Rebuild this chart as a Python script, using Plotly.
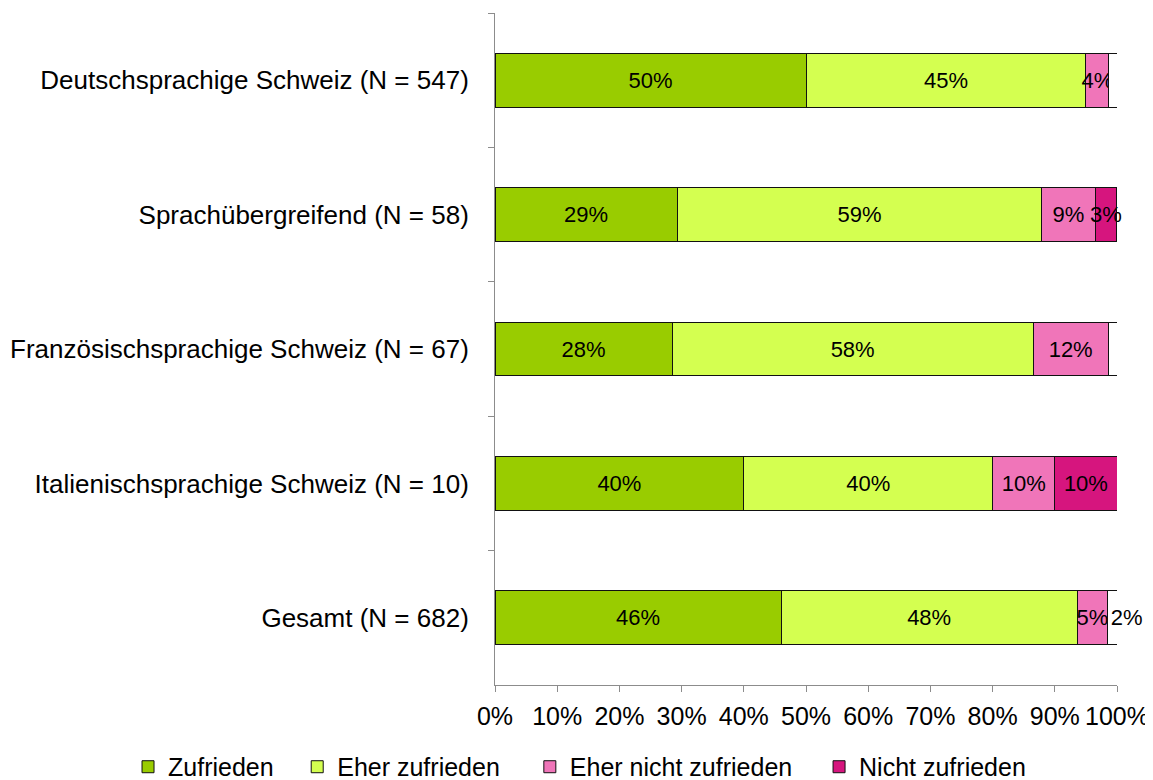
import plotly.graph_objects as go

# Regions, top to bottom as in the chart
categories = [
    "Deutschsprachige Schweiz (N = 547)",
    "Sprachübergreifend (N = 58)",
    "Französischsprachige Schweiz (N = 67)",
    "Italienischsprachige Schweiz (N = 10)",
    "Gesamt (N = 682)",
]

# Shares in percent
zufrieden = [50.0, 29.3, 28.5, 40.0, 46.0]
eher_zufrieden = [45.0, 58.6, 58.0, 40.0, 47.6]
eher_nicht_zufrieden = [3.7, 8.6, 12.1, 10.0, 4.9]
nicht_zufrieden = [0.0, 3.4, 0.0, 10.0, 0.0]
keine_angabe = [1.3, 0.0, 1.4, 0.0, 1.5]
keine_angabe_label = [False, False, False, False, True]

x_ticks = [0, 10, 20, 30, 40, 50, 60, 70, 80, 90, 100]

# name, values, colour, legend id (None = not in legend)
series = [
    ("Zufrieden", zufrieden, "#99CC00", "legend"),
    ("Eher zufrieden", eher_zufrieden, "#D4FF50", "legend2"),
    ("Eher nicht zufrieden", eher_nicht_zufrieden, "#F075B9", "legend3"),
    ("Nicht zufrieden", nicht_zufrieden, "#D6157E", "legend4"),
    ("keine Angabe", keine_angabe, "#FFFFFF", None),
]

# left edge of each legend entry (paper coords), Excel spaces them unevenly
legend_x = {"legend": -0.590, "legend2": -0.318, "legend3": 0.056, "legend4": 0.521}

FONT = "Liberation Sans, Arial, sans-serif"


def make_labels(values, mask=None):
    labels = []
    for i, v in enumerate(values):
        show = v > 0 if mask is None else mask[i]
        labels.append(f"{round(v)}%" if show else "")
    return labels


fig = go.Figure()
for name, values, color, legend_id in series:
    is_rest = legend_id is None
    fig.add_trace(
        go.Bar(
            name=name,
            y=categories,
            x=values,
            orientation="h",
            marker=dict(color=color, line=dict(color="#111111", width=1)),
            text=make_labels(values, keine_angabe_label if is_rest else None),
            textposition="inside",
            insidetextanchor="start" if is_rest else "middle",
            textangle=0,
            constraintext="none",
            cliponaxis=False,
            textfont=dict(family=FONT, size=22, color="black"),
            showlegend=not is_rest,
            legend=legend_id or "legend",
            hoverinfo="name+x",
        )
    )

legend_style = dict(
    orientation="h",
    xanchor="left",
    y=-0.122,
    yanchor="middle",
    font=dict(size=25),
    itemwidth=30,
    bgcolor="rgba(0,0,0,0)",
)

# the page body adds an 8px offset, so the figure is 8px smaller
fig.update_layout(
    barmode="stack",
    bargap=0.6,
    width=1145,
    height=772,
    margin=dict(l=487, r=36, t=5, b=95, autoexpand=False),
    plot_bgcolor="white",
    paper_bgcolor="white",
    font=dict(family=FONT, size=25, color="black"),
    legend=dict(legend_style, x=legend_x["legend"]),
    legend2=dict(legend_style, x=legend_x["legend2"]),
    legend3=dict(legend_style, x=legend_x["legend3"]),
    legend4=dict(legend_style, x=legend_x["legend4"]),
)

fig.update_xaxes(
    range=[0, 100],
    tickvals=x_ticks,
    ticktext=[f"{t}%" for t in x_ticks],
    showgrid=False,
    zeroline=False,
    showline=True,
    linecolor="#8c8c8c",
    linewidth=1,
    ticks="outside",
    ticklen=6,
    tickcolor="#8c8c8c",
    ticklabelstandoff=3,
    tickfont=dict(size=25),
)

fig.update_yaxes(
    categoryorder="array",
    categoryarray=categories,
    autorange="reversed",
    showgrid=False,
    showline=True,
    linecolor="#8c8c8c",
    linewidth=1,
    ticks="outside",
    ticklen=6,
    tickcolor="#8c8c8c",
    tickson="boundaries",
    ticklabelstandoff=20,
    tickfont=dict(size=26),
)

fig.write_html("out.html")
